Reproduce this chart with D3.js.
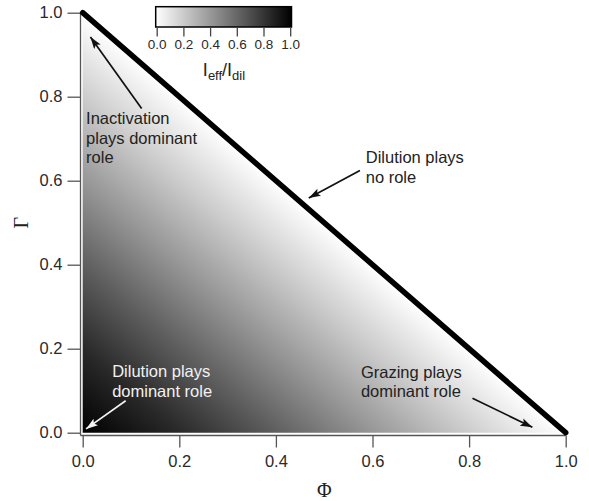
<!DOCTYPE html>
<html>
<head>
    <meta charset="UTF-8">
    <style>
        body { margin: 0; background: #fff; }
        text { font-family: "Liberation Sans", Arial, sans-serif; }
    </style>
</head>
<body>
    <div id="chart"></div>
    <script src="https://cdn.jsdelivr.net/npm/d3@7"></script>
    <script>

    // values
    const axisTicks = [0.0, 0.2, 0.4, 0.6, 0.8, 1.0];
    const barTicks = [0.0, 0.2, 0.4, 0.6, 0.8, 1.0];
    // I_eff/I_dil along Phi + Gamma (isolines parallel to the diagonal)
    const sumLevels = [0.0, 0.2, 0.4, 0.6, 0.8, 1.0];
    const ratioLevels = [1.0, 0.84, 0.63, 0.41, 0.2, 0.0];

    const annotations = [
        {lines: ["Inactivation", "plays dominant", "role"], tx: 0.007, ty: 0.735, from: [0.122, 0.772], to: [0.016, 0.942], color: "#222"},
        {lines: ["Dilution plays", "no role"], tx: 0.586, ty: 0.641, from: [0.574, 0.624], to: [0.468, 0.559], color: "#222"},
        {lines: ["Dilution plays", "dominant role"], tx: 0.061, ty: 0.133, from: [0.089, 0.076], to: [0.007, 0.009], color: "#f2f2f2"},
        {lines: ["Grazing plays", "dominant role"], tx: 0.576, ty: 0.131, from: [0.807, 0.082], to: [0.931, 0.013], color: "#222"}
    ];

    const width = 589, height = 501;

    const svg = d3.select("#chart")
        .append("svg")
        .attr("width", width)
        .attr("height", height);

    const x = d3.scaleLinear().domain([0, 1]).range([82.7, 565.7]);
    const y = d3.scaleLinear().domain([0, 1]).range([432.7, 12.7]);
    const grey = d3.scaleLinear().domain([0, 1]).range(["#ffffff", "#000000"]);

    const defs = svg.append("defs");

    // gradient across the triangle, perpendicular to the diagonal
    const ax = x(0), ay = y(1), bx = x(1), by = y(0);
    const ox = x(0), oy = y(0);
    const dx = bx - ax, dy = by - ay;
    const t = ((ox - ax) * dx + (oy - ay) * dy) / (dx * dx + dy * dy);
    const fx = ax + t * dx, fy = ay + t * dy;

    const fieldGrad = defs.append("linearGradient")
        .attr("id", "field")
        .attr("gradientUnits", "userSpaceOnUse")
        .attr("x1", ox).attr("y1", oy)
        .attr("x2", fx).attr("y2", fy);
    fieldGrad.selectAll("stop")
        .data(sumLevels)
        .join("stop")
        .attr("offset", d => d)
        .attr("stop-color", (d, i) => grey(ratioLevels[i]));

    svg.append("path")
        .attr("d", `M${x(0)},${y(0)}L${x(0)},${y(1)}L${x(1)},${y(0)}Z`)
        .style("fill", "url(#field)");

    // frame + axes
    const frame = svg.append("g").style("stroke", "#555").style("stroke-width", 1.3).style("fill", "none");
    frame.append("line").attr("x1", 80.5).attr("x2", 80.5).attr("y1", y(1)).attr("y2", 435.5);
    frame.append("line").attr("x1", 80.5).attr("x2", x(1)).attr("y1", 435.5).attr("y2", 435.5);

    const yAxis = svg.append("g")
        .attr("transform", "translate(80.5,0)")
        .call(d3.axisLeft(y).tickValues(axisTicks).tickFormat(d3.format(".1f")).tickSize(13).tickSizeOuter(0).tickPadding(5));
    const xAxis = svg.append("g")
        .attr("transform", "translate(0,435.5)")
        .call(d3.axisBottom(x).tickValues(axisTicks).tickFormat(d3.format(".1f")).tickSize(12).tickSizeOuter(0).tickPadding(8));
    [xAxis, yAxis].forEach(g => {
        g.select(".domain").remove();
        g.selectAll(".tick line").style("stroke", "#555").style("stroke-width", 1.3);
        g.selectAll(".tick text")
            .style("font-size", "16.5px")
            .style("fill", "#2a2a2a")
            .style("font-family", "'Liberation Sans', Arial, sans-serif");
    });

    // diagonal: dilution plays no role
    svg.append("line")
        .attr("x1", x(0)).attr("y1", y(1))
        .attr("x2", x(1)).attr("y2", y(0))
        .style("stroke", "#000")
        .style("stroke-width", 5.5)
        .style("stroke-linecap", "round");

    // axis titles
    svg.append("text")
        .attr("transform", `translate(28,${(y(0) + y(1)) / 2}) rotate(-90)`)
        .attr("text-anchor", "middle")
        .style("font-family", "'Liberation Serif', 'Times New Roman', serif")
        .style("font-size", "20px")
        .style("fill", "#222")
        .text("Γ");
    svg.append("text")
        .attr("x", (x(0) + x(1)) / 2)
        .attr("y", 497)
        .attr("text-anchor", "middle")
        .style("font-family", "'Liberation Serif', 'Times New Roman', serif")
        .style("font-size", "20px")
        .style("fill", "#222")
        .text("Φ");

    // arrows
    ["#111", "#f2f2f2"].forEach((c, i) => {
        defs.append("marker")
            .attr("id", "head" + i)
            .attr("markerUnits", "userSpaceOnUse")
            .attr("viewBox", "0 0 12 8")
            .attr("refX", 12).attr("refY", 4)
            .attr("markerWidth", 12).attr("markerHeight", 8)
            .attr("orient", "auto")
            .append("path")
            .attr("d", "M0,0L12,4L0,8L2.5,4Z")
            .style("fill", c);
    });

    const notes = svg.append("g");
    annotations.forEach(a => {
        const white = a.color !== "#222";
        notes.append("line")
            .attr("x1", x(a.from[0])).attr("y1", y(a.from[1]))
            .attr("x2", x(a.to[0])).attr("y2", y(a.to[1]))
            .style("stroke", white ? "#f2f2f2" : "#111")
            .style("stroke-width", 1.7)
            .attr("marker-end", `url(#head${white ? 1 : 0})`);
        notes.append("text")
            .attr("x", x(a.tx))
            .attr("y", y(a.ty))
            .style("font-size", "16.5px")
            .style("fill", a.color)
            .selectAll("tspan")
            .data(a.lines)
            .join("tspan")
            .attr("x", x(a.tx))
            .attr("dy", (d, i) => i === 0 ? 0 : 19.7)
            .text(d => d);
    });

    // colour bar
    const bx0 = 155.7, bx1 = 291.5, by0 = 6.7, by1 = 27;
    const cb = d3.scaleLinear().domain([0, 1]).range([156.7, 290.2]);
    const barGrad = defs.append("linearGradient").attr("id", "bar");
    barGrad.selectAll("stop")
        .data([0, 1])
        .join("stop")
        .attr("offset", d => d)
        .attr("stop-color", d => grey(d));
    svg.append("rect")
        .attr("x", bx0).attr("y", by0)
        .attr("width", bx1 - bx0).attr("height", by1 - by0)
        .style("fill", "url(#bar)")
        .style("stroke", "#000")
        .style("stroke-width", 1.5);
    const barAxis = svg.append("g")
        .attr("transform", `translate(0,${by1 + 0.5})`)
        .call(d3.axisBottom(cb).tickValues(barTicks).tickFormat(d3.format(".1f")).tickSize(9).tickSizeOuter(0).tickPadding(3));
    barAxis.select(".domain").remove();
    barAxis.selectAll(".tick line").style("stroke", "#444").style("stroke-width", 1.3);
    barAxis.selectAll(".tick text")
        .style("font-size", "13.5px")
        .style("fill", "#2a2a2a")
        .style("font-family", "'Liberation Sans', Arial, sans-serif");

    const title = svg.append("text")
        .attr("x", 224)
        .attr("y", 76)
        .attr("text-anchor", "middle")
        .style("font-size", "18px")
        .style("fill", "#222");
    title.append("tspan").text("I");
    title.append("tspan").attr("dy", 4).style("font-size", "13px").text("eff");
    title.append("tspan").attr("dy", -4).text("/I");
    title.append("tspan").attr("dy", 4).style("font-size", "13px").text("dil");

    </script>
</body>
</html>
